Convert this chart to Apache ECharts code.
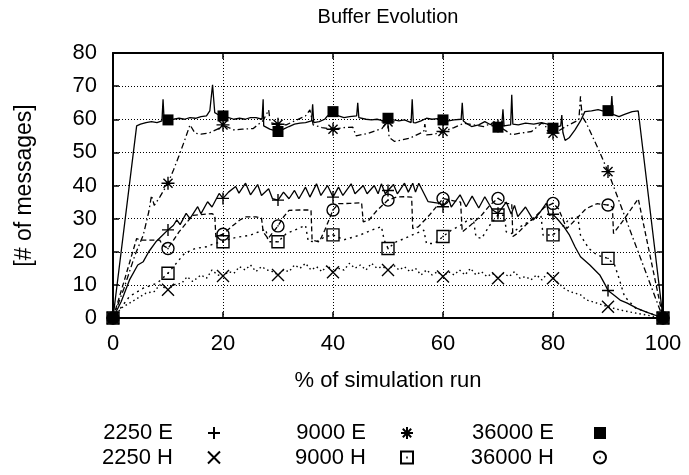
<!DOCTYPE html>
<html>
<head>
<meta charset="utf-8">
<script src="https://cdn.jsdelivr.net/npm/echarts@6/dist/echarts.min.js"></script>
<style>
  html, body { margin: 0; padding: 0; background: #fff; }
  #chart { width: 689px; height: 475px; }
</style>
</head>
<body>
<div id="chart"></div>
<script>
// Buffer occupancy over the course of a simulation run, [x = % of run, y = # of messages]
const names = ['2250 E', '2250 H', '9000 E', '9000 H', '36000 E', '36000 H'];

const xTickValues = [0, 20, 40, 60, 80, 100];
const yTickValues = [0, 10, 20, 30, 40, 50, 60, 70, 80];

const s2250E = [
  [0,0],[1.5,5],[3,11.5],[4.5,16],[5.5,17],[6.5,20],[7.8,23],[9,25],[10,26.6],[11,28],[11.6,29.6],
  [12.2,28.2],[13.3,31.6],[14,30],[15.4,33.6],[16,31.5],[17.2,35.1],[18,33.5],[19.3,37.6],[20,36.1],
  [21,38],[22.3,39.7],[22.9,37.7],[24.1,40.7],[25,37.2],[26.3,40.3],[27,37],[28.3,39],[29,36],[30,35.6],
  [31,38],[32,36],[33,38.5],[33.8,36],[35,39.5],[35.8,36.5],[37,40.5],[37.8,37],[39,40],[40,36.5],
  [41,39.5],[41.8,37],[43.3,40.5],[44,37.5],[45.5,40],[46.2,37.5],[47.5,40],[48.2,37.5],[48.8,40.5],
  [49.5,37.5],[50,38.5],[51,40.3],[51.7,37.5],[53,40.7],[53.7,38],[54.5,40.7],[55,38],[55.6,40.7],
  [57.3,35.1],[59.4,34.6],[60,33.6],[61,36],[61.5,33.5],[63.1,37.2],[64.2,33.6],[65.3,36.8],[66.5,33.2],
  [67.6,36.6],[69,32.6],[70,31.6],[71.5,35],[72.4,31.4],[73,34],[73.6,30.6],[75,33.5],[76.4,29.6],
  [77.5,31.6],[78.8,34.7],[79.3,31],[80,31.3],[81,29.5],[82,27.5],[83,25],[84,21.5],[85,18.5],
  [86.7,16],[88.5,13],[89.5,10],[90,8.3],[91,7],[92.2,5.4],[93.5,4.5],[95.3,2.9],[97,1.8],[100,0]
];

const s2250H = [
  [0,0],[1.5,3],[3,4.5],[4.5,6],[6,7.5],[7.5,8],[8.5,10],[10,8.5],[11,10],[12.5,10.5],[13.5,12.5],
  [14.5,11],[16,13],[17,12],[18,14.5],[19,13],[20,12.7],[21,14],[22,13.5],[23,15.5],[24,14.5],[25,16],
  [26,14],[27,15.5],[28,14.5],[29,14],[30,13],[31,14.5],[32,14],[33,16],[34,15],[35,16.5],[36,14.5],
  [37,15.5],[38,14],[39,16],[40,13.8],[41,15],[42,14.5],[43,16.5],[44,15],[45,16],[46,14.5],[47,16.5],
  [48,15],[49,15.5],[50,14.5],[51,16],[52,14.5],[53,15.5],[54,14],[55,15],[56,13],[57,14.5],[58,13],
  [59,14],[60,12.5],[61,14],[62,13],[63,14.5],[64,13],[65,15],[66,13],[67,14],[68,12.5],[69,13.5],
  [70,12],[71,13.5],[72,12.5],[73,14],[74,12],[75,12.5],[76,11.5],[77,13],[78,11.5],[79,13.5],[80,12],
  [81,10.5],[82,9],[83,8],[84,7.5],[85,7],[86,5.5],[87,5],[88,4.5],[90,3.4],[92,2.5],[94,1.8],[96,1.2],
  [98,0.6],[100,0]
];

const s9000E = [
  [0,0],[2,9],[4,19],[5.5,25],[6.5,32],[7,37],[7.5,34],[8.5,36.5],[10,40.7],[11,44.7],[12,49],[13,53.5],
  [14,58.3],[14.9,55.8],[16,55.5],[17.4,55.8],[19,57],[20,58.3],[21,57.5],[21.9,56.8],[23.5,57],
  [25.5,57.2],[27.3,59.6],[28.3,62.8],[28.6,59],[30,58.5],[31.5,58.3],[33,59.5],[35,61],[35.8,62.8],
  [36.4,58.3],[38,57.5],[40,57],[42,57.5],[43.6,57.6],[44.2,55],[46.5,55.8],[48.9,57.2],[49.6,58.8],
  [50,59.2],[50.2,54.5],[51.2,53.3],[54,54.3],[56.5,56.3],[56.7,58.5],[57,55.3],[58.5,55.5],[60,56.3],
  [62,57.5],[63.8,58.8],[65.5,58.3],[67.4,57.8],[69.2,59],[70,58],[71,57],[72.5,55.3],[74,55.8],
  [76.1,56.3],[77.9,58.8],[78.5,58.5],[79,56.5],[80,55.8],[81,56.5],[82.3,57.8],[84.7,59.8],[85,66.9],
  [85.3,60.8],[86,59],[88.3,50.8],[90,44.2],[100,0]
];

const s9000H = [
  [0,0],[3,6.5],[5.5,9],[8,10.5],[10,13.5],[11.5,16.5],[13,19.5],[15,21],[17,21.5],[18.5,22.5],[20,23],
  [21.5,24],[23,24.5],[25,25],[26.5,26],[27.8,26.8],[28.2,23],[30,23],[31.5,25.5],[33,26.5],[35,28],
  [35.5,23.2],[37,23],[38.5,24.5],[40,25.1],[42,23.6],[45,25.1],[47,26.5],[48.8,27.6],[49.3,23.6],
  [50,21],[51.5,23],[53,24],[55,25.5],[56.5,26.5],[57,22.5],[58.5,22.5],[60,24.6],[61.5,26.5],
  [63,27.8],[64.5,29.5],[65.5,30],[66,24.5],[67,24],[68.5,28],[70,31.1],[71.2,31],[71.5,26],
  [72.5,25.5],[74,27.5],[76,29.5],[77.8,31],[78.2,25],[80,25.1],[81.5,27],[83,30],[84.5,30.5],
  [85,25],[86.5,21],[88,19],[90,18],[91.2,16],[92,12],[93,6.5],[95,3],[100,0]
];

const s36000E = [
  [0,0],[4.3,58],[5,58.5],[6,59],[7,59.3],[8,59],[8.9,59.5],[9.1,66],[9.3,59.5],[10,59.8],[11,60],
  [12,60.3],[13,60],[14,60.5],[15,60.3],[16,60.8],[17,61],[17.6,62.5],[18.1,70.4],[18.5,62],[19,61.5],
  [20,61],[21,60.5],[22,60],[23,60.3],[24,60],[25,60.5],[26,60.5],[27.1,60],[27.3,66],[27.4,58],
  [28.5,57],[30,56.3],[31,57],[32,57.8],[33,58.5],[34,58.8],[35,59],[36.1,59.5],[36.3,64.5],[36.5,59],
  [37.5,59.3],[38.5,60],[39,61],[40,62.3],[41,61],[42,60.5],[43,60.8],[44.3,61],[44.5,65],[44.7,60.5],
  [46,60],[47,59.8],[48,60],[49,59.6],[50,60.3],[51,59.8],[52,59.5],[53,59.8],[54.2,59],[54.4,66],
  [54.6,59],[55,58.9],[56,59.5],[57,60.3],[58,60],[59,60.2],[60,59.8],[61,59.5],[62,59.8],[63.3,60],
  [63.5,65],[63.7,59.5],[64.5,58.5],[65.2,57.8],[66.5,58.3],[67.6,59.3],[68.5,58.5],[69.3,58],[70,57.6],
  [70.7,58.5],[70.9,63],[71.1,58],[72.3,58.3],[72.5,67.4],[72.7,58.5],[73.7,58.3],[75,58.8],[76.5,58.5],
  [77.9,59],[79,58.5],[80,57.3],[81.4,58],[81.6,61.3],[81.8,56],[82.2,53.6],[83,54.5],[84,56.8],
  [85,59.5],[85.8,62.3],[87,62.5],[88.2,62.9],[89,62.5],[90,62.6],[90.5,62.2],[90.7,67],[90.9,61.5],
  [92,60.8],[93,61.5],[94.4,62.3],[95.5,62.5],[100,0]
];

const s36000H = [
  [0,0],[2,11],[4.3,24],[5,23.5],[7,23.5],[8.5,23.5],[9,22],[10,21],[11,23.5],[12,26],[13.5,29],
  [14.5,31],[16,31.2],[18,31.5],[18.5,31],[18.7,24.5],[20,25.3],[21.5,27.5],[23,29.5],[24,30.5],
  [26,30.5],[27,30.2],[27.3,26],[28.2,24],[30,27.8],[31,30.5],[32,32.5],[34,32.6],[36,32.6],[36.2,23.5],
  [37.5,23],[38.5,26.5],[40,32.6],[41,34.5],[43,34.6],[45.2,34.8],[45.5,29],[46.5,29.5],[48,32.5],
  [50,35.6],[51.5,36.5],[53,36.6],[54.3,36.5],[54.5,27],[55.5,27.5],[57.5,31],[59,34],[60,36.1],
  [61.5,35.5],[63.2,35],[63.5,26],[65,28],[67,31],[68.5,34],[70,36.1],[71.5,34.6],[72.5,34.5],
  [72.7,24.6],[73.5,25.5],[75,28],[77,31],[78.5,33.5],[80,34.6],[81,33],[82.5,27],[84,29.5],[86,33],
  [88,34.5],[90,34.1],[90.8,33.5],[91,25.5],[93,30],[95.5,36],[100,0]
];

const values = [s2250E, s2250H, s9000E, s9000H, s36000E, s36000H];

// point glyphs, drawn as stroked outlines except the solid box
const glyphs = {
  plus: 'path://M0,5L10,5M5,0L5,10',
  cross: 'path://M0,0L10,10M0,10L10,0',
  star: 'path://M0,5L10,5M5,0L5,10M1.5,1.5L8.5,8.5M1.5,8.5L8.5,1.5',
  boxDot: 'path://M0,0L10,0L10,10L0,10ZM4.4,5L5.6,5',
  circleDot: 'path://M0,5A5,5,0,1,1,10,5A5,5,0,1,1,0,5ZM4.4,5L5.6,5'
};

const styles = [
  { dash: 'solid',        width: 1.3, symbol: glyphs.plus,      size: 12, filled: false },
  { dash: [1.5, 3],       width: 1.4, symbol: glyphs.cross,     size: 12, filled: false },
  { dash: [6, 3, 1.5, 3], width: 1.3, symbol: glyphs.star,      size: 13, filled: false },
  { dash: [2, 4],         width: 1.4, symbol: glyphs.boxDot,    size: 12, filled: false },
  { dash: 'solid',        width: 1.3, symbol: 'rect',           size: 11, filled: true },
  { dash: [5, 3],         width: 1.3, symbol: glyphs.circleDot, size: 12, filled: false }
];

const FONT = 'Liberation Sans, Arial, Helvetica, sans-serif';

const series = [];
names.forEach((name, i) => {
  const st = styles[i];
  series.push({
    name: name + ' trace',
    type: 'line',
    data: values[i],
    showSymbol: false,
    symbol: 'none',
    silent: true,
    z: 2,
    lineStyle: { color: '#000', width: st.width, type: st.dash }
  });
});
names.forEach((name, i) => {
  const st = styles[i];
  series.push({
    name: name,
    type: 'scatter',
    data: values[i].filter(p => p[0] % 10 === 0),
    symbol: st.symbol,
    symbolSize: st.size,
    clip: false,
    z: 3,
    itemStyle: st.filled
      ? { color: '#000', borderColor: '#000', borderWidth: 0, opacity: 1 }
      : { color: 'rgba(0,0,0,0)', borderColor: '#000', borderWidth: 1.4, opacity: 1 }
  });
});

function legendColumn(items, right, padRight) {
  return {
    data: items,
    orient: 'vertical',
    right: right,
    top: 421,
    padding: 0,
    itemGap: 0.5,
    align: 'right',
    itemWidth: 12,
    itemHeight: 12,
    selectedMode: false,
    textStyle: { color: '#000', fontSize: 22, fontFamily: FONT, lineHeight: 24, padding: [0, padRight, 0, 0] }
  };
}

const axisCommon = {
  type: 'value',
  axisLine: { show: true, onZero: false, lineStyle: { color: '#000', width: 2 } },
  axisTick: { show: true, inside: true, length: 6, lineStyle: { color: '#000', width: 1.5 } }
};

const chart = echarts.init(document.getElementById('chart'), null, { renderer: 'canvas' });
chart.setOption({
  animation: false,
  backgroundColor: '#fff',
  title: {
    text: 'Buffer Evolution',
    left: 383,
    top: 2,
    textAlign: 'center',
    textStyle: { color: '#000', fontSize: 20, fontWeight: 'normal', fontFamily: FONT }
  },
  grid: { left: 113, right: 26, top: 53, bottom: 157, containLabel: false, outerBoundsMode: 'none' },
  legend: [
    legendColumn(['2250 E', '2250 H'], 468, 30),
    legendColumn(['9000 E', '9000 H'], 275, 30),
    legendColumn(['36000 E', '36000 H'], 82, 35)
  ],
  xAxis: [
    Object.assign({}, axisCommon, {
      position: 'bottom',
      min: xTickValues[0], max: xTickValues[xTickValues.length - 1],
      interval: xTickValues[1] - xTickValues[0],
      axisLabel: { color: '#000', fontSize: 22, fontFamily: FONT, margin: 15 },
      splitLine: { show: true, lineStyle: { color: '#000', width: 1, type: [1, 2] } },
      name: '% of simulation run',
      nameLocation: 'middle',
      nameGap: 52,
      nameTextStyle: { color: '#000', fontSize: 22, fontFamily: FONT }
    }),
    Object.assign({}, axisCommon, {
      position: 'top',
      min: xTickValues[0], max: xTickValues[xTickValues.length - 1],
      interval: xTickValues[1] - xTickValues[0],
      axisLabel: { show: false },
      splitLine: { show: false }
    })
  ],
  yAxis: [
    Object.assign({}, axisCommon, {
      position: 'left',
      min: yTickValues[0], max: yTickValues[yTickValues.length - 1],
      interval: yTickValues[1] - yTickValues[0],
      axisLabel: { color: '#000', fontSize: 22, fontFamily: FONT, margin: 16 },
      splitLine: { show: true, lineStyle: { color: '#000', width: 1, type: [1, 2] } },
      name: '[# of messages]',
      nameLocation: 'middle',
      nameGap: 77,
      nameTextStyle: { color: '#000', fontSize: 23, fontFamily: FONT }
    }),
    Object.assign({}, axisCommon, {
      position: 'right',
      min: yTickValues[0], max: yTickValues[yTickValues.length - 1],
      interval: yTickValues[1] - yTickValues[0],
      axisLabel: { show: false },
      splitLine: { show: false }
    })
  ],
  series: series
});
</script>
</body>
</html>
